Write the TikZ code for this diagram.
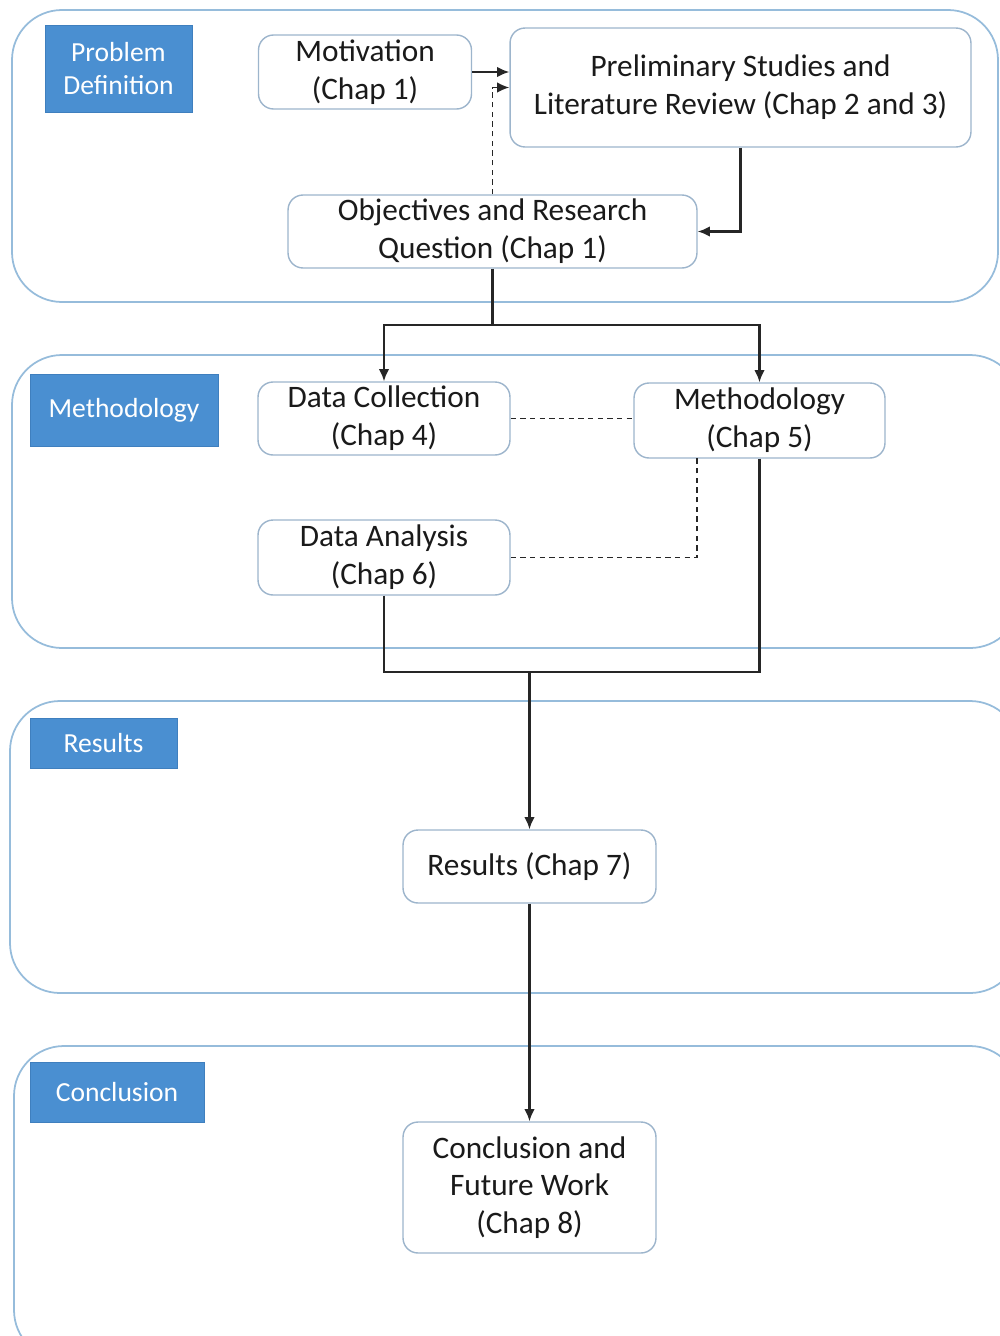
\documentclass[tikz,border=0pt]{standalone}
\usepackage{fontspec}
\setmainfont{Carlito}
\usetikzlibrary{arrows.meta}
\definecolor{regionc}{HTML}{96BCDB}
\definecolor{nodec}{HTML}{9DB5CC}
\definecolor{labfill}{HTML}{4A8FD1}
\definecolor{labdraw}{HTML}{3F7FBE}
\definecolor{txt}{HTML}{1A1A1A}
\begin{document}
\begin{tikzpicture}[x=0.02cm,y=-0.02cm,
  region/.style={draw=regionc,line width=1pt,rounded corners=1cm},
  chapbox/.style={draw=nodec,line width=0.8pt,fill=white,rounded corners=0.3cm,align=center,
     inner sep=0pt,text=txt,font=\fontsize{17.8}{21.5}\selectfont},
  labbox/.style={fill=labfill,draw=labdraw,line width=0.5pt,align=center,inner sep=0pt,
     text=white,font=\fontsize{15.7}{19.3}\selectfont},
  conn/.style={draw=black!85,line width=1.2pt},
  tip/.style={-{Latex[length=7pt,width=6pt]}},
  arr/.style={conn,tip},
  dconn/.style={conn,dash pattern=on 3pt off 2.5pt,line width=0.9pt}
]
\useasboundingbox (0,0) rectangle (1000,1336);
% regions
\draw[region] (12,10) rectangle (998,302);
\draw[region] (12,355) rectangle (1020,648);
\draw[region] (10,701) rectangle (1020,993);
\draw[region] (14,1046) rectangle (1020,1360);
% section labels
\node[labbox,minimum width=2.94cm,minimum height=1.74cm] (lpd) at (118.5,68.5) {Problem\\Definition};
\node[labbox,minimum width=3.76cm,minimum height=1.44cm] (lme) at (124,410) {Methodology};
\node[labbox,minimum width=2.94cm,minimum height=1.0cm] (lre) at (103.5,743) {Results};
\node[labbox,minimum width=3.48cm,minimum height=1.2cm] (lco) at (117,1092) {Conclusion};
% chapter boxes
\node[chapbox,minimum width=4.26cm,minimum height=1.48cm] (mot) at (365,72) {Motivation\\(Chap 1)};
\node[chapbox,minimum width=9.22cm,minimum height=2.38cm] (pre) at (740.5,87.5) {Preliminary Studies and\\Literature Review (Chap 2 and 3)};
\node[chapbox,minimum width=8.18cm,minimum height=1.46cm] (obj) at (492.5,231.5) {Objectives and Research\\Question (Chap 1)};
\node[chapbox,minimum width=5.04cm,minimum height=1.46cm] (dc) at (384,418.5) {Data Collection\\(Chap 4)};
\node[chapbox,minimum width=5.02cm,minimum height=1.50cm] (met) at (759.5,420.5) {Methodology\\(Chap 5)};
\node[chapbox,minimum width=5.04cm,minimum height=1.50cm] (da) at (384,557.5) {Data Analysis\\(Chap 6)};
\node[chapbox,minimum width=5.06cm,minimum height=1.46cm] (res) at (529.5,866.5) {Results (Chap 7)};
\node[chapbox,minimum width=5.06cm,minimum height=2.62cm] (con) at (529.5,1187.5) {Conclusion and\\Future Work\\(Chap 8)};
% coordinates
\coordinate (split) at (492.5,325);
\coordinate (mdash) at (697,458);
\coordinate (merge) at (529.5,672);
% connectors
\draw[arr] (mot.east) -- (mot.east -| pre.west);
\draw[dconn,tip] (obj.north) |- (pre.west);
\draw[arr] (pre.south) |- (obj.east);
\draw[conn] (obj.south) -- (split);
\draw[arr] (split) -| (dc.north);
\draw[arr] (split) -| (met.north);
\draw[dconn] (dc.east) -- (dc.east -| met.west);
\draw[dconn] (da.east) -| (mdash);
\draw[conn] (da.south) |- (merge);
\draw[conn] (met.south) |- (merge);
\draw[arr] (merge) -- (res.north);
\draw[arr] (res.south) -- (con.north);
\end{tikzpicture}
\end{document}
